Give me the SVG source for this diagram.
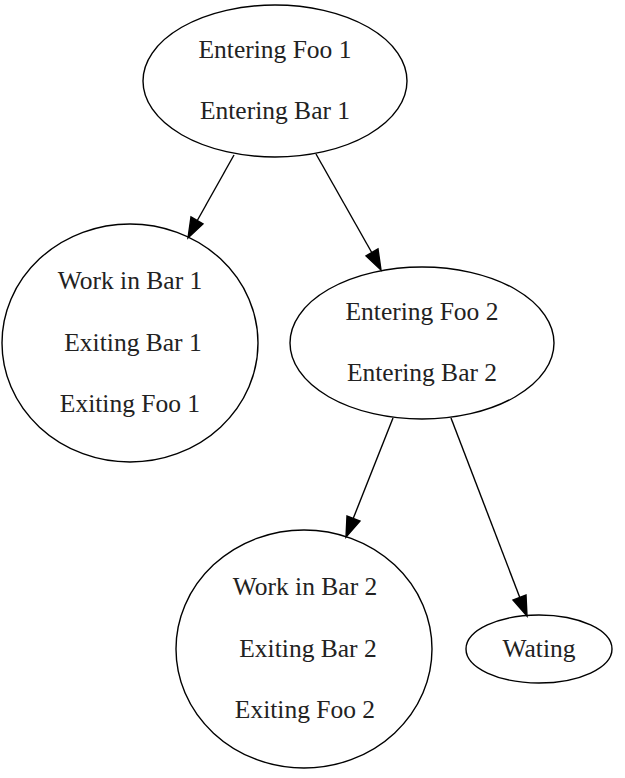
<svg xmlns="http://www.w3.org/2000/svg" width="625" height="778" viewBox="0 0 625 778">
<style>
.n ellipse{fill:none;stroke:#000;stroke-width:1.4}
.n text{font-family:"Liberation Serif","Times New Roman",serif;font-size:25.5px;fill:#222;text-anchor:middle}
.e line{stroke:#000;stroke-width:1.4}
.e polygon{fill:#000;stroke:#000;stroke-width:1.4}
</style>
<rect width="625" height="778" fill="#fff"/>
<g id="n1" class="n">
<ellipse cx="275" cy="81" rx="132" ry="76"/>
<text x="275" y="58">Entering Foo 1</text>
<text x="275" y="119">Entering Bar 1</text>
</g>
<g id="n2" class="n">
<ellipse cx="130" cy="343" rx="128" ry="119"/>
<text x="130" y="289">Work in Bar 1</text>
<text x="133" y="351">Exiting Bar 1</text>
<text x="130" y="412">Exiting Foo 1</text>
</g>
<g id="n3" class="n">
<ellipse cx="422" cy="343" rx="132" ry="76"/>
<text x="422" y="320">Entering Foo 2</text>
<text x="422" y="381">Entering Bar 2</text>
</g>
<g id="n4" class="n">
<ellipse cx="304" cy="649" rx="128" ry="119"/>
<text x="305" y="595">Work in Bar 2</text>
<text x="308" y="657">Exiting Bar 2</text>
<text x="305" y="718">Exiting Foo 2</text>
</g>
<g id="n5" class="n">
<ellipse cx="539" cy="649" rx="73" ry="34"/>
<text x="539" y="657">Wating</text>
</g>
<g id="edges" class="e">
<line x1="234" y1="155" x2="197" y2="221"/>
<polygon points="188,238 191,217 203,224"/>
<line x1="316" y1="154" x2="372" y2="253"/>
<polygon points="381,270 366,256 378,249"/>
<line x1="393" y1="418" x2="353" y2="519"/>
<polygon points="346,537 347,516 360,521"/>
<line x1="451" y1="418" x2="520" y2="598"/>
<polygon points="527,616 513,600 526,595"/>
</g>
</svg>
